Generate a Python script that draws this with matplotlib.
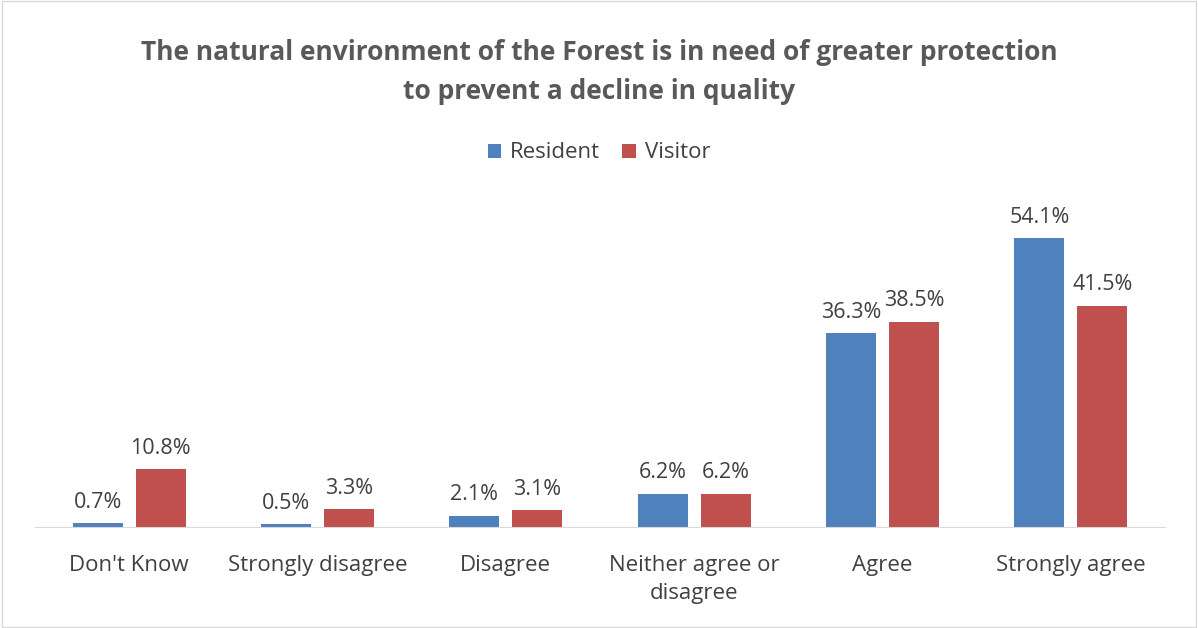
import numpy as np
import matplotlib.pyplot as plt

categories = ["Don't Know", "Strongly disagree", "Disagree",
              "Neither agree or\ndisagree", "Agree", "Strongly agree"]
resident = [0.7, 0.5, 2.1, 6.2, 36.3, 54.1]
visitor = [10.8, 3.3, 3.1, 6.2, 38.5, 41.5]

plt.rcParams['font.family'] = ['Open Sans', 'DejaVu Sans']

fig = plt.figure(figsize=(11.98, 6.28), dpi=100)
ax = fig.add_axes([35 / 1198, 1 - 527 / 628, 1130 / 1198, 320 / 628])

x = np.arange(len(categories))
w = 0.266
off = 0.167
b1 = ax.bar(x - off, resident, w, color='#4F81BD', label='Resident')
b2 = ax.bar(x + off, visitor, w, color='#C0504D', label='Visitor')

for bars, vals in ((b1, resident), (b2, visitor)):
    for b, v in zip(bars, vals):
        ax.text(b.get_x() + b.get_width() / 2, v + 2.0, f'{v:.1f}%',
                ha='center', va='bottom', fontsize=15.5, color='#404040')

ax.set_xlim(-0.5, len(categories) - 0.5)
ax.set_ylim(0, 60)
ax.set_yticks([])
ax.set_xticks(x)
ax.set_xticklabels(categories, fontsize=16, color='#404040', linespacing=1.45)
ax.tick_params(axis='x', length=0, pad=20)
for s in ['top', 'right', 'left']:
    ax.spines[s].set_visible(False)
ax.spines['bottom'].set_color('#D9D9D9')

fig.text(0.5, 1 - 72 / 628, 'The natural environment of the Forest is in need of greater protection\nto prevent a decline in quality',
         ha='center', va='center', fontsize=19, fontweight='bold', color='#595959', linespacing=1.55)

fig.legend(handles=[b1, b2], loc='center', bbox_to_anchor=(0.5, 1 - 153 / 628), ncol=2,
           frameon=False, fontsize=16, handlelength=0.6, handleheight=0.6,
           columnspacing=1.0, handletextpad=0.4, labelcolor='#404040')

border = plt.Rectangle((0.002, 0.002), 0.996, 0.996, transform=fig.transFigure,
                       fill=False, edgecolor='#D9D9D9', linewidth=1)
fig.patches.append(border)

fig.savefig('out.png', dpi=100)
